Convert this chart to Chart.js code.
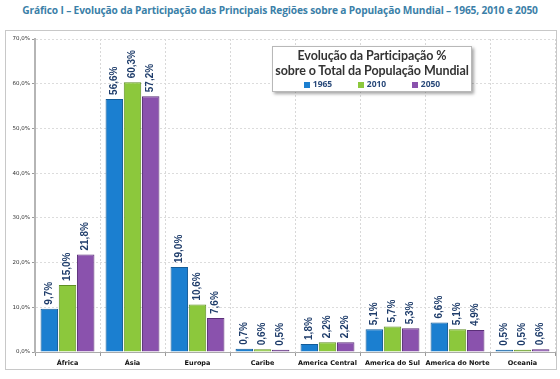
<!DOCTYPE html>
<html>
<head>
<meta charset="utf-8">
<script src="https://cdn.jsdelivr.net/npm/chart.js@4/dist/chart.umd.min.js"></script>
<style>
  body { margin: 0; width: 560px; height: 379px; background: #fff; position: relative; overflow: hidden; font-family: "Open Sans", sans-serif; }
  #title { position: absolute; top: 3px; left: 0; width: 560px; text-align: center; font: bold 10.2px "Open Sans", sans-serif; color: #3b7fa8; letter-spacing: -0.15px; }
  #frame { position: absolute; left: 5px; top: 30px; width: 552px; height: 340px; border: 1px solid #c8c8c8; box-sizing: border-box; }
  #wrap { position: absolute; left: 0; top: 0; width: 560px; height: 379px; }
  #legend { position: absolute; left: 272px; top: 46px; width: 200px; height: 46px; background: #fff; border: 1px solid #b8b8b8; box-shadow: 2px 2px 3px rgba(0,0,0,0.35); box-sizing: border-box; text-align: center; color: #333; white-space: nowrap; }
  #legend .t { font: bold 12.5px Lato, sans-serif; line-height: 15px; letter-spacing: -0.1px; }
  #legend .items { display: flex; justify-content: space-around; padding: 0 18px; font: bold 8.5px "Open Sans", sans-serif; color: #2a4a7a; line-height: 11px; }
  #legend .sw { display: inline-block; width: 6px; height: 6px; margin-right: 3px; vertical-align: -0.5px; }
</style>
</head>
<body>
<div id="title">Gráfico I – Evolução da Participação das Principais Regiões sobre a População Mundial – 1965, 2010 e 2050</div>
<div id="frame"></div>
<div id="wrap"><canvas id="chart" width="560" height="379"></canvas></div>
<div id="legend">
  <div class="t" style="margin-top:1px">Evolução da Participação %</div>
  <div class="t">sobre o Total da População Mundial</div>
  <div class="items">
    <span><i class="sw" style="background:#1b7fd0"></i>1965</span>
    <span><i class="sw" style="background:#8cc83c"></i>2010</span>
    <span><i class="sw" style="background:#8a52ad"></i>2050</span>
  </div>
</div>
<script>
const categories = ['África', 'Ásia', 'Europa', 'Caribe', 'America Central', 'America do Sul', 'America do Norte', 'Oceania'];
const series1965 = [9.7, 56.6, 19.0, 0.7, 1.8, 5.1, 6.6, 0.5];
const series2010 = [15.0, 60.3, 10.6, 0.6, 2.2, 5.7, 5.1, 0.5];
const series2050 = [21.8, 57.2, 7.6, 0.5, 2.2, 5.3, 4.9, 0.6];
const yTicks = [0, 10, 20, 30, 40, 50, 60, 70];

const fmt = v => v.toFixed(1).replace('.', ',') + '%';

// rotated value labels above each bar
const valueLabels = {
    id: 'valueLabels',
    afterDatasetsDraw(chart) {
        const ctx = chart.ctx;
        ctx.save();
        ctx.font = 'bold 10px "Liberation Sans", sans-serif';
        ctx.fillStyle = '#1f3d6b';
        ctx.textAlign = 'left';
        ctx.textBaseline = 'middle';
        chart.data.datasets.forEach((ds, i) => {
            chart.getDatasetMeta(i).data.forEach((bar, j) => {
                ctx.save();
                ctx.translate(bar.x, bar.y - 4);
                ctx.rotate(-Math.PI / 2);
                ctx.fillText(fmt(ds.data[j]), 0, 0);
                ctx.restore();
            });
        });
        ctx.restore();
    }
};

const ctx = document.getElementById('chart').getContext('2d');
new Chart(ctx, {
    type: 'bar',
    data: {
        labels: categories,
        datasets: [
            { label: '1965', data: series1965, backgroundColor: '#1b7fd0', borderColor: '#145c98' },
            { label: '2010', data: series2010, backgroundColor: '#8cc83c', borderColor: '#5f8f23' },
            { label: '2050', data: series2050, backgroundColor: '#8a52ad', borderColor: '#5a2f78' }
        ]
    },
    options: {
        responsive: false,
        animation: false,
        layout: { padding: { left: 5, right: 5, top: 39, bottom: 9 } },
        datasets: {
            bar: { categoryPercentage: 0.84, barPercentage: 0.96, borderWidth: 1 }
        },
        scales: {
            x: {
                grid: { display: true, offset: true, color: '#d8d8d8', tickLength: 4, tickColor: '#999' },
                border: { display: true, color: '#aaa', width: 1, dash: [2, 2] },
                ticks: { color: '#111', font: { family: '"DejaVu Sans", sans-serif', size: 6.5, weight: 'bold' }, padding: 3, maxRotation: 0, autoSkip: false },
                afterFit(scale) { scale.height = 18; }
            },
            y: {
                min: 0, max: 70,
                afterBuildTicks(scale) { scale.ticks = yTicks.map(v => ({ value: v })); },
                grid: { color: '#dcdcdc', tickLength: 3, tickColor: '#999' },
                border: { display: true, color: '#b5b5b5', width: 2, dash: [2, 2] },
                ticks: { color: '#333', font: { family: '"DejaVu Sans", sans-serif', size: 5.5 }, padding: 2, callback: v => v.toFixed(1).replace('.', ',') + '%' },
                afterFit(scale) { scale.width = 30; }
            }
        },
        plugins: {
            legend: { display: false },
            tooltip: { enabled: false }
        }
    },
    plugins: [valueLabels]
});
</script>
</body>
</html>
